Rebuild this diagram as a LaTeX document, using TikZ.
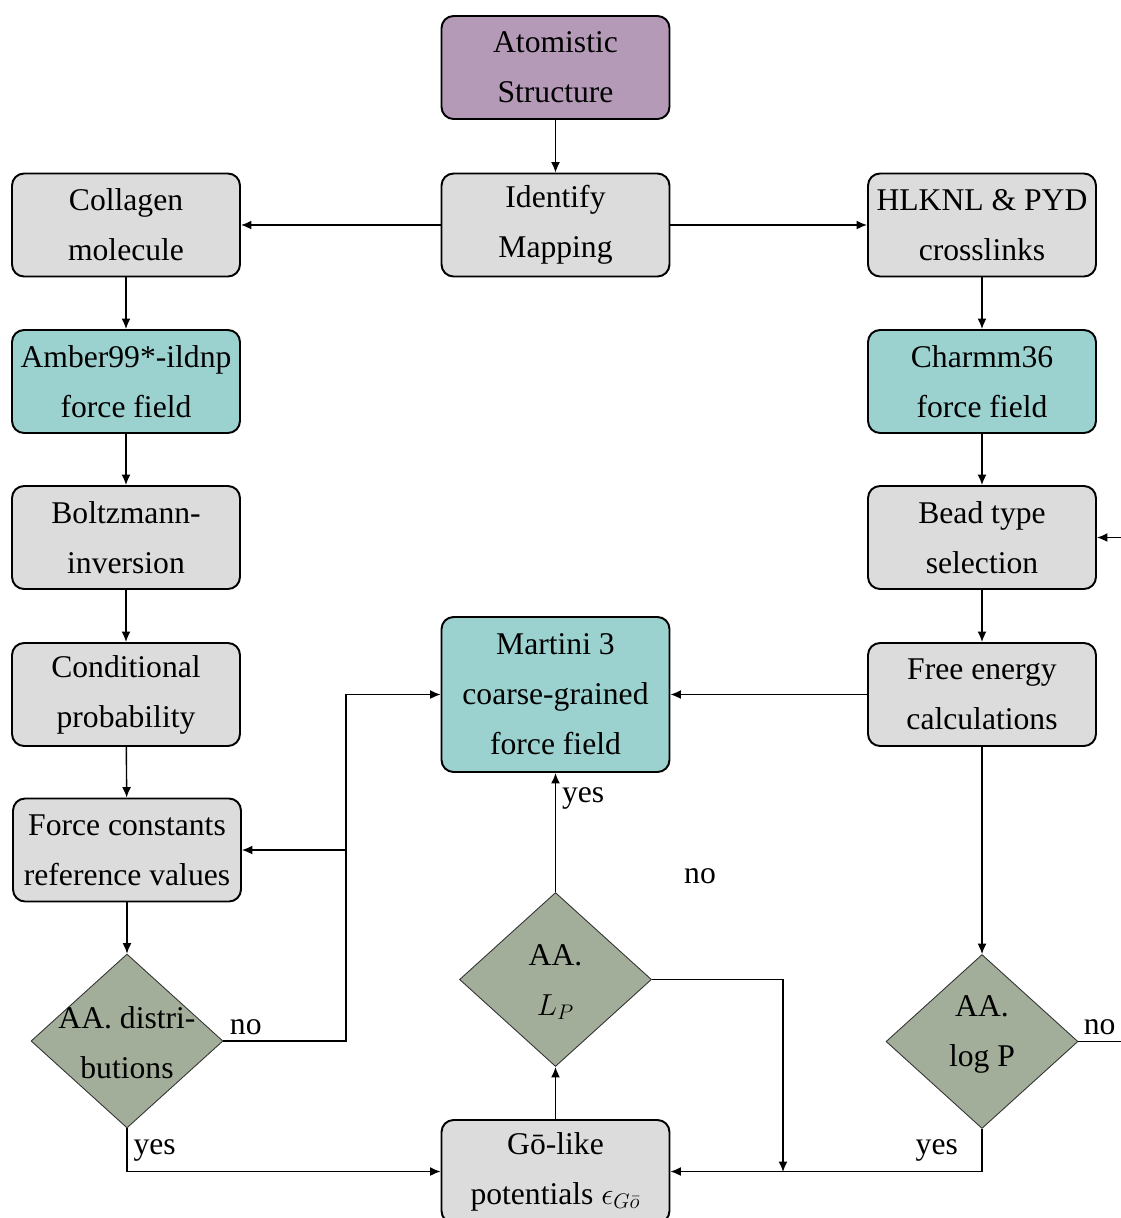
\documentclass[tikz,border=0pt]{standalone}
\usepackage{fontspec}
\setmainfont{Liberation Serif}
\usetikzlibrary{shapes.geometric,arrows.meta}
\definecolor{atomcol}{HTML}{B59AB8}
\definecolor{ffcol}{HTML}{9BD2D0}
\definecolor{stepcol}{HTML}{DCDCDC}
\definecolor{testcol}{HTML}{A3AE9A}
\tikzset{
  box/.style={draw,line width=1.1pt,rounded corners=0.24cm,fill=stepcol,minimum width=4.56cm,minimum height=2.06cm,align=center,font=\fontsize{18}{28.5}\selectfont,inner sep=1pt},
  test/.style={draw=black!80,line width=0.5pt,diamond,fill=testcol,minimum width=3.84cm,minimum height=3.48cm,inner sep=0pt},
  lbl/.style={font=\fontsize{18}{28.5}\selectfont},
  conn/.style={line width=0.8pt}
}
\begin{document}
\begin{tikzpicture}[x=0.02cm,y=-0.02cm,>={Latex[length=2.1mm,width=1.8mm]}]
                \useasboundingbox (0,0) rectangle (1121,1218);
                \node[box,fill=atomcol] (atom) at (555.5,67.5) {Atomistic\\Structure};
                \node[box] (map) at (555.5,225) {Identify\\Mapping};
                \node[box] (coll) at (126,225) {Collagen\\molecule};
                \node[box] (xlink) at (982,225) {HLKNL \& PYD\\crosslinks};
                \node[box,fill=ffcol] (amber) at (126,381.5) {Amber99*-ildnp\\force field};
                \node[box,fill=ffcol] (charmm) at (982,381.5) {Charmm36\\force field};
                \node[box] (boltz) at (126,537.5) {Boltzmann-\\inversion};
                \node[box] (bead) at (982,537.5) {Bead type\\selection};
                \node[box] (cond) at (126,694.5) {Conditional\\probability};
                \node[box] (free) at (982,694.5) {Free energy\\calculations};
                \node[box,fill=ffcol,minimum height=3.1cm] (martini) at (555.5,694.5) {Martini 3\\coarse-grained\\force field};
                \node[box] (fconst) at (127,850) {Force constants\\reference values};
                \node[box] (go) at (555.5,1171.5) {Gō-like\\potentials $\epsilon_{G\bar{o}}$};
                \node[test] (dist) at (127,1041) {};
                \node[lbl,align=center] (distT) at (127,1043) {AA. distri-\\butions};
                \node[test] (lp) at (555.5,979.5) {};
                \node[lbl,align=center] (lpT) at (555.5,982) {AA.\\$L_P$};
                \node[test] (logp) at (982,1041.5) {};
                \node[lbl,align=center] (logpT) at (982,1034) {AA.\\log P};
                \node[lbl] (lpNo) at (700,876) {no};
                \coordinate (nobus) at (346,0);
                \coordinate (lpjoin) at (783,1172);
                \coordinate (retA) at (1121,1041.5);
                \coordinate (retB) at (1121,537.5);
                \draw[conn,->] (atom) -- (map);
                \draw[conn,->] (map) -- (coll);
                \draw[conn,->] (map) -- (xlink);
                \draw[conn,->] (coll) -- (amber);
                \draw[conn,->] (amber) -- (boltz);
                \draw[conn,->] (boltz) -- (cond);
                \draw[conn,->] (cond) -- (fconst);
                \draw[conn,->] (fconst.south) -- (dist.north);
                \draw[conn,->] (xlink) -- (charmm);
                \draw[conn,->] (charmm) -- (bead);
                \draw[conn,->] (bead) -- (free);
                \draw[conn,->] (free.south) -- (logp.north);
                \draw[conn,->] (free) -- (martini);
                \draw[conn,->] (dist.east) node[lbl,above right] {no} -- (dist.east -| nobus) |- (martini.west);
                \draw[conn,->] (nobus |- fconst.east) -- (fconst.east);
                \draw[conn,->] (dist.south) |- node[lbl,right,pos=0.25] {yes} (go.west);
                \draw[conn,->] (go.north) -- (lp.south);
                \draw[conn,->] (lp.north) -- node[lbl,right,pos=0.79] {yes} (martini.south);
                \draw[conn,->] (lp.east) -| (lpjoin);
                \draw[conn,->] (logp.south) |- node[lbl,left,pos=0.25,xshift=-10] {yes} (go.east);
                \draw[conn] (logp.east) -- node[lbl,above] {no} (retA);
                \draw[conn,->] (retB) -- (bead.east);
            \end{tikzpicture}
\end{document}
